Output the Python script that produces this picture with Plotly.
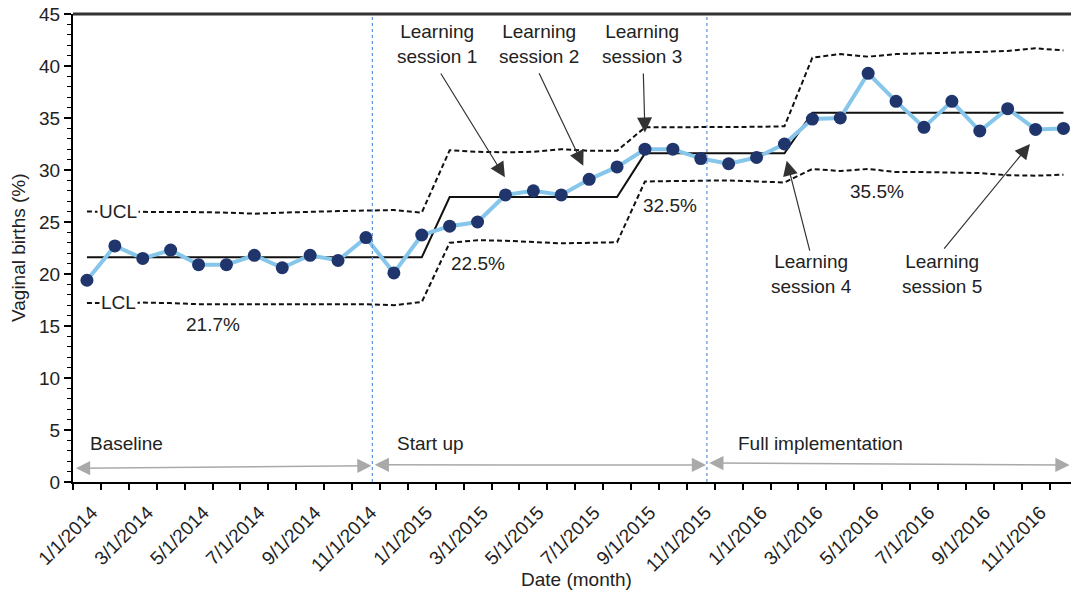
import plotly.graph_objects as go

months = ["1/1/2014", "2/1/2014", "3/1/2014", "4/1/2014", "5/1/2014", "6/1/2014",
          "7/1/2014", "8/1/2014", "9/1/2014", "10/1/2014", "11/1/2014", "12/1/2014",
          "1/1/2015", "2/1/2015", "3/1/2015", "4/1/2015", "5/1/2015", "6/1/2015",
          "7/1/2015", "8/1/2015", "9/1/2015", "10/1/2015", "11/1/2015", "12/1/2015",
          "1/1/2016", "2/1/2016", "3/1/2016", "4/1/2016", "5/1/2016", "6/1/2016",
          "7/1/2016", "8/1/2016", "9/1/2016", "10/1/2016", "11/1/2016", "12/1/2016"]

vaginal_births = [19.4, 22.7, 21.5, 22.3, 20.9, 20.9, 21.8, 20.6, 21.8, 21.3, 23.5, 20.1,
                  23.75, 24.6, 25.0, 27.6, 28.0, 27.6, 29.1, 30.3, 32.0, 32.0, 31.1, 30.6,
                  31.2, 32.5, 34.9, 35.0, 39.3, 36.6, 34.1, 36.6, 33.75, 35.9, 33.9, 34.0]

center_line = [21.6] * 13 + [27.4] * 7 + [31.6] * 6 + [35.5] * 10

ucl = [26.0, 26.0, 26.0, 26.0, 25.95, 25.9, 25.8, 25.9, 26.0, 26.05, 26.1, 26.15, 25.9,
       31.9, 31.75, 31.7, 31.75, 32.0, 31.85, 31.85,
       34.1, 34.1, 34.1, 34.1, 34.15, 34.2,
       40.8, 41.15, 40.9, 41.15, 41.2, 41.3, 41.35, 41.45, 41.7, 41.5]

lcl = [17.2, 17.25, 17.25, 17.2, 17.1, 17.1, 17.1, 17.1, 17.1, 17.1, 17.1, 17.0, 17.3,
       23.0, 23.25, 23.2, 23.1, 22.95, 23.0, 23.05,
       28.9, 28.95, 29.0, 29.0, 28.9, 28.8,
       30.1, 29.9, 30.1, 29.8, 29.8, 29.75, 29.7, 29.5, 29.45, 29.55]

phase_labels = ["Baseline", "Start up", "Full implementation"]
phase_mean_labels = ["21.7%", "22.5%", "32.5%", "35.5%"]
session_labels = ["Learning<br>session 1", "Learning<br>session 2", "Learning<br>session 3",
                  "Learning<br>session 4", "Learning<br>session 5"]

x = list(range(len(months)))
FONT = "Liberation Sans, Arial, sans-serif"
TXT = "#222222"

fig = go.Figure()
dash = "5px,3px"
fig.add_trace(go.Scatter(x=x, y=ucl, mode="lines", line=dict(color="#111111", width=2, dash=dash),
                         hoverinfo="skip", showlegend=False))
fig.add_trace(go.Scatter(x=x, y=lcl, mode="lines", line=dict(color="#111111", width=2, dash=dash),
                         hoverinfo="skip", showlegend=False))
fig.add_trace(go.Scatter(x=x, y=center_line, mode="lines", line=dict(color="#111111", width=2),
                         hoverinfo="skip", showlegend=False))
fig.add_trace(go.Scatter(x=x, y=vaginal_births, mode="lines+markers",
                         line=dict(color="#86c6ea", width=4),
                         marker=dict(color="#1f356b", size=13),
                         showlegend=False))

# phase boundaries
bounds = [10.23, 22.22]
for b in bounds:
    fig.add_shape(type="line", xref="x", yref="paper", x0=b, x1=b, y0=0, y1=1,
                  line=dict(color="#5b93d6", width=1.2, dash="dot"))

# top border
fig.add_shape(type="line", xref="paper", yref="paper", x0=0, x1=1, y0=1, y1=1,
              line=dict(color="#333333", width=3))

ann = []
# phase double arrows
arrows = [(-0.45, 1.33, 10.2, 1.56), (10.26, 1.65, 22.19, 1.64), (22.25, 1.82, 35.22, 1.64)]
for (x0, y0, x1, y1) in arrows:
    ann.append(dict(x=x1, y=y1, ax=x0, ay=y0, xref="x", yref="y", axref="x", ayref="y",
                    text="", showarrow=True, arrowhead=2, startarrowhead=2, arrowside="end+start",
                    arrowwidth=1.5, arrowsize=1.9, startarrowsize=1.9,
                    arrowcolor="#a9a9a9"))

phase_pos = [(1.4, 3.72), (12.31, 3.75), (26.3, 3.72)]
for t, (px, py) in zip(phase_labels, phase_pos):
    ann.append(dict(x=px, y=py, xref="x", yref="y", text=t, showarrow=False,
                    font=dict(family=FONT, size=19, color=TXT)))

mean_pos = [(4.53, 15.19), (14.03, 21.03), (20.9, 26.54), (28.31, 27.91)]
for t, (px, py) in zip(phase_mean_labels, mean_pos):
    ann.append(dict(x=px, y=py, xref="x", yref="y", text=t, showarrow=False,
                    font=dict(family=FONT, size=19, color=TXT)))

# UCL / LCL labels
ann.append(dict(x=1.13, y=25.98, xref="x", yref="y", text="UCL", showarrow=False,
                bgcolor="white", borderpad=1, font=dict(family=FONT, size=19, color=TXT)))
ann.append(dict(x=1.13, y=17.24, xref="x", yref="y", text="LCL", showarrow=False,
                bgcolor="white", borderpad=1, font=dict(family=FONT, size=19, color=TXT)))

# learning sessions text
sess_text_pos = [(12.55, 42.1), (16.2, 42.1), (19.91, 42.1), (25.98, 20.0), (30.64, 20.0)]
for t, (px, py) in zip(session_labels, sess_text_pos):
    ann.append(dict(x=px, y=py, xref="x", yref="y", text=t, showarrow=False,
                    font=dict(family=FONT, size=19, color=TXT)))

# learning session arrows (tail -> tip)
sess_arrows = [(12.65, 39.42, 14.98, 29.3), (16.18, 39.45, 17.79, 30.4),
               (19.94, 39.42, 20.0, 33.6), (25.92, 22.1, 25.08, 30.9),
               (30.68, 22.3, 33.8, 32.5)]
for (tx, ty, hx, hy) in sess_arrows:
    ann.append(dict(x=hx, y=hy, ax=tx, ay=ty, xref="x", yref="y", axref="x", ayref="y",
                    text="", showarrow=True, arrowhead=2, arrowwidth=1.2, arrowsize=2.5,
                    arrowcolor="#333333"))

# axis titles
ann.append(dict(x=(576 - 73) / 27.9 - 0.5, y=-97 / 468, xref="x", yref="paper",
                xanchor="center", yanchor="middle", text="Date (month)", showarrow=False,
                font=dict(family=FONT, size=19, color=TXT)))
ann.append(dict(x=-55 / 998, y=0.5, xref="paper", yref="paper", text="Vaginal births (%)",
                xanchor="center", yanchor="middle",
                textangle=-90, showarrow=False, font=dict(family=FONT, size=19, color=TXT)))

fig.update_layout(
    width=1071, height=595,
    margin=dict(l=73, r=0, t=14, b=113),
    plot_bgcolor="white", paper_bgcolor="white",
    font=dict(family=FONT, size=19, color=TXT),
    annotations=ann,
    xaxis=dict(range=[-0.5, 35.27], tickmode="array", tickvals=x[::2], ticktext=months[::2],
               tickangle=-45, ticks="", showline=True, linecolor="black", linewidth=2,
               ticklabelstandoff=10, ticklabelshift=5,
               showgrid=False, zeroline=False, tickfont=dict(family=FONT, size=19, color=TXT),
               minor=dict(tickmode="array", tickvals=[i - 0.5 for i in range(len(months) + 1)],
                          ticks="outside", ticklen=6, tickwidth=1.5, tickcolor="black",
                          showgrid=False)),
    yaxis=dict(range=[0, 45], tickmode="linear", tick0=0, dtick=5, ticks="outside", ticklen=7,
               tickwidth=1.5, tickcolor="black", showline=True, linecolor="black", linewidth=2,
               showgrid=False, zeroline=False, tickfont=dict(family=FONT, size=19, color=TXT),
               minor=dict(dtick=1, ticks="outside", ticklen=4, tickwidth=1, tickcolor="black",
                          showgrid=False)),
)

fig.write_html("out.html")
